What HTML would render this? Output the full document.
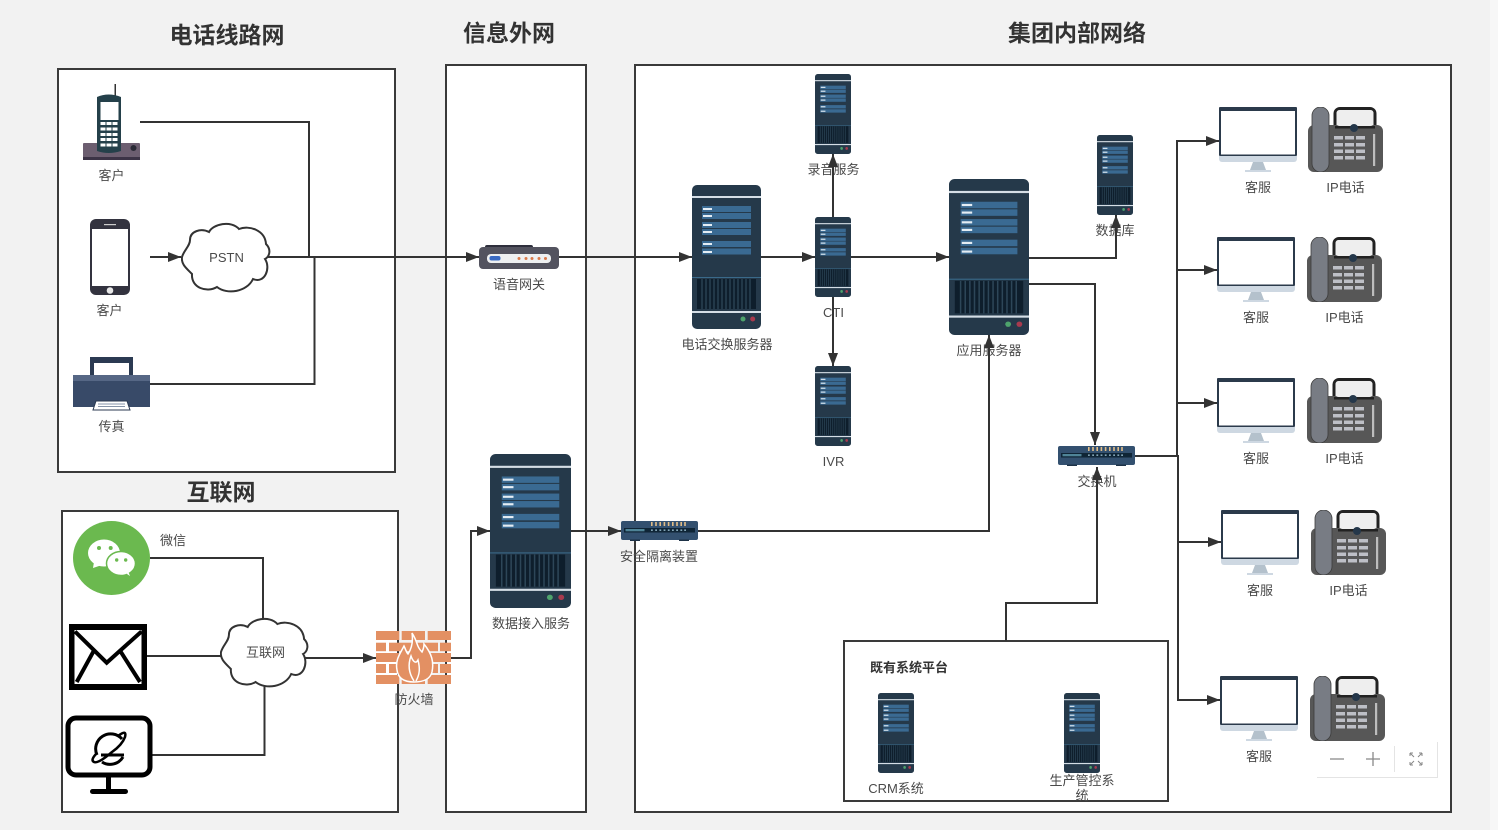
<!DOCTYPE html>
<html lang="zh"><head><meta charset="utf-8"><title>网络拓扑</title>
<style>
html,body{margin:0;padding:0;background:#f2f2f2;width:1498px;height:830px;overflow:hidden}
svg{display:block}
text{font-family:"Liberation Sans","Noto Sans CJK SC",sans-serif;fill:#4a4a4a;font-size:13px;text-anchor:middle}
.t{font-size:23px;font-weight:700;fill:#333}
.b{fill:#fff;stroke:#3a3a3a;stroke-width:2}
.c{fill:none;stroke:#333;stroke-width:2}
</style></head><body>
<svg width="1498" height="830" viewBox="0 0 1498 830" xmlns="http://www.w3.org/2000/svg">
<defs>
<marker id="a" markerUnits="userSpaceOnUse" markerWidth="14" markerHeight="10" refX="13" refY="5" orient="auto"><path d="M0 0L13 5L0 10L0 0Z" fill="#333"/></marker>
<symbol id="srv" viewBox="0 0 69 144" preserveAspectRatio="none">
<rect width="69" height="144" rx="5" fill="#25394a"/>
<rect y="11" width="69" height="2" fill="#d5dee6"/>
<g fill="#3a6a92"><rect x="10" y="21" width="49" height="6"/><rect x="10" y="28" width="49" height="6"/><rect x="10" y="37" width="49" height="6"/><rect x="10" y="44" width="49" height="6"/><rect x="10" y="56" width="49" height="6"/><rect x="10" y="63.500" width="49" height="6"/></g>
<g fill="#e4edf4"><rect x="11" y="23" width="9" height="2"/><rect x="11" y="30" width="9" height="2"/><rect x="11" y="39" width="9" height="2"/><rect x="11" y="46" width="9" height="2"/><rect x="11" y="58" width="9" height="2"/><rect x="11" y="66" width="9" height="2"/></g>
<rect y="92" width="69" height="1" fill="#3a6a8a"/>
<rect x="5" y="94" width="59" height="30" fill="#0e1e2c"/>
<path d="M10 94v30M14 94v30M18 94v30M22 94v30M26 94v30M30 94v30M34 94v30M38 94v30M42 94v30M46 94v30M50 94v30M54 94v30M58 94v30" stroke="#2d4658" stroke-width="1.300"/>
<rect y="126" width="69" height="2" fill="#d5dee6"/>
<circle cx="51" cy="134" r="2.500" fill="#4ea36c"/><circle cx="60.700" cy="134" r="2.500" fill="#a83a4e"/>
</symbol>
<symbol id="mon" viewBox="0 0 78 65">
<rect width="78" height="49" rx="1" fill="#2b3a4b"/>
<rect x="2" y="4" width="74" height="43.500" fill="#fff"/>
<path d="M0 49H78V52a3 3 0 0 1-3 3H3a3 3 0 0 1-3-3Z" fill="#ced8e2"/>
<path d="M34 55H44L47 63H31Z" fill="#b4c1cc"/><rect x="26" y="63" width="26" height="2" fill="#ced8e2"/>
</symbol>
<symbol id="fon" viewBox="0 0 75 65">
<rect x="27" y="1.500" width="40" height="24" rx="5" fill="#eee" stroke="#222" stroke-width="3"/>
<rect x="0" y="18" width="75" height="47" rx="6" fill="#575757"/>
<rect x="27" y="19" width="40" height="2.500" fill="#222"/>
<rect x="28.500" y="3" width="37" height="16" rx="3" fill="#eee"/>
<rect x="4" y="0" width="17" height="65" rx="8.500" fill="#787c84" stroke="#3c3c3c" stroke-width=".8"/>
<circle cx="46" cy="21" r="4" fill="#24374a"/>
<g fill="#bdbfc6"><rect x="26" y="29" width="9" height="3.500"/><rect x="37" y="29" width="9" height="3.500"/><rect x="48" y="29" width="9" height="3.500"/><rect x="26" y="36" width="9" height="3.500"/><rect x="37" y="36" width="9" height="3.500"/><rect x="48" y="36" width="9" height="3.500"/><rect x="26" y="42.500" width="9" height="3.500"/><rect x="37" y="42.500" width="9" height="3.500"/><rect x="48" y="42.500" width="9" height="3.500"/><rect x="26" y="49" width="9" height="3.500"/><rect x="37" y="49" width="9" height="3.500"/><rect x="48" y="49" width="9" height="3.500"/></g>
<rect x="65" y="27" width="2.200" height="32" fill="#bdbdbd"/>
</symbol>
<symbol id="sw" viewBox="0 0 77 20">
<rect y="0" width="77" height="19" rx="2" fill="#33506f"/>
<g fill="#e2bd87"><rect x="30" y="1" width="1.600" height="4"/><rect x="34.200" y="1" width="1.600" height="4"/><rect x="38.400" y="1" width="1.600" height="4"/><rect x="42.600" y="1" width="1.600" height="4"/><rect x="46.800" y="1" width="1.600" height="4"/><rect x="51" y="1" width="1.600" height="4"/><rect x="55.200" y="1" width="1.600" height="4"/><rect x="59.400" y="1" width="1.600" height="4"/><rect x="63.200" y="1" width="1.600" height="4"/></g>
<rect x="3" y="7" width="71" height="4.500" fill="#0f2536"/><rect x="4.500" y="8" width="19" height="2.300" fill="#4f8497"/>
<g fill="#9fc4d6"><rect x="30" y="8.500" width="1.800" height="1.300"/><rect x="34.200" y="8.500" width="1.800" height="1.300"/><rect x="38.400" y="8.500" width="1.800" height="1.300"/><rect x="42.600" y="8.500" width="1.800" height="1.300"/><rect x="46.800" y="8.500" width="1.800" height="1.300"/><rect x="51" y="8.500" width="1.800" height="1.300"/><rect x="55.200" y="8.500" width="1.800" height="1.300"/><rect x="59.400" y="8.500" width="1.800" height="1.300"/><rect x="63.200" y="8.500" width="1.800" height="1.300"/></g>
<rect x="9" y="18.500" width="10" height="1.500" fill="#1d3247"/><rect x="58" y="18.500" width="10" height="1.500" fill="#1d3247"/>
</symbol>
<symbol id="cloud" viewBox="0 0 90 71" preserveAspectRatio="none">
<path d="M1 35C3 28 9 24 9 18C9 9 20 6 28 10C32 2 50-2 58 7C68 3 84 8 85 22C91 28 88 35 84 37C90 46 84 62 72 57C66 70 46 73 36 65C26 71 10 66 11 52C5 46 0 42 1 35Z" fill="#fff" stroke="#333" stroke-width="2"/>
</symbol>
</defs>

<rect x="1490" width="8" height="830" fill="#f7f7f7"/>
<rect class="b" x="58" y="69" width="337" height="403"/>
<rect class="b" x="62" y="511" width="336" height="301"/>
<rect class="b" x="446" y="65" width="140" height="747"/>
<rect class="b" x="635" y="65" width="816" height="747"/>
<rect class="b" x="844" y="641" width="324" height="160"/>

<text class="t" x="227" y="43">电话线路网</text>
<text class="t" x="509" y="41">信息外网</text>
<text class="t" x="1077" y="41">集团内部网络</text>
<text class="t" x="221" y="500">互联网</text>

<text x="111.500" y="180">客户</text><text x="109.500" y="315">客户</text><text x="111.500" y="431">传真</text>
<text x="519" y="289">语音网关</text><text x="727" y="349">电话交换服务器</text>
<text x="833.500" y="174">录音服务</text><text x="833.500" y="317">CTI</text><text x="833.500" y="466">IVR</text>
<text x="989" y="355">应用服务器</text><text x="1115" y="235">数据库</text><text x="1097" y="486">交换机</text>
<text x="173" y="545">微信</text><text x="414" y="704">防火墙</text>
<text x="531" y="628">数据接入服务</text><text x="659" y="561">安全隔离装置</text>
<text x="909" y="672" style="font-weight:700;fill:#333">既有系统平台</text>
<text x="896" y="793">CRM系统</text><text x="1082" y="785">生产管控系</text><text x="1082" y="800">统</text>
<text x="1258" y="192">客服</text><text x="1345.500" y="192">IP电话</text>
<text x="1256" y="322">客服</text><text x="1344.500" y="322">IP电话</text>
<text x="1256" y="463">客服</text><text x="1344.500" y="463">IP电话</text>
<text x="1260" y="595">客服</text><text x="1348.500" y="595">IP电话</text>
<text x="1259" y="761">客服</text>

<g class="c">
<path d="M140 122H309V257"/>
<path d="M150 257H181" marker-end="url(#a)"/>
<path d="M150 384H314.500V257"/>
<path d="M268 257H479" marker-end="url(#a)"/>
<path d="M559 257H692" marker-end="url(#a)"/>
<path d="M761 257H815" marker-end="url(#a)"/>
<path d="M851 257H949" marker-end="url(#a)"/>
<path d="M833 217V154" marker-end="url(#a)"/>
<path d="M833 297V366" marker-end="url(#a)"/>
<path d="M1029 258H1116V215" marker-end="url(#a)"/>
<path d="M1029 284H1095V445" marker-end="url(#a)"/>
<path d="M1135 456H1177V141H1219" marker-end="url(#a)"/>
<path d="M1177 270H1217" marker-end="url(#a)"/>
<path d="M1177 403H1217" marker-end="url(#a)"/>
<path d="M1135 456H1178V700H1220" marker-end="url(#a)"/>
<path d="M1178 542H1221" marker-end="url(#a)"/>
<path d="M1006 641V603H1097V467" marker-end="url(#a)"/>
<path d="M571 531H621" marker-end="url(#a)"/>
<path d="M698 531H989V335" marker-end="url(#a)"/>
<path d="M451 658H471V531H490" marker-end="url(#a)"/>
<path d="M150 558H263V622"/>
<path d="M147 656H222"/>
<path d="M152 755H264.500V684"/>
<path d="M305 658H376" marker-end="url(#a)"/>
</g>

<use href="#cloud" x="181" y="222" width="90" height="71"/>
<use href="#cloud" x="220" y="617" width="89" height="71"/>
<text x="226.500" y="262">PSTN</text><text x="265.500" y="657">互联网</text>

<use href="#srv" x="692" y="185" width="69" height="144"/>
<use href="#srv" x="949" y="179" width="80" height="156"/>
<use href="#srv" x="490" y="454" width="81" height="154"/>
<use href="#srv" x="815" y="74" width="36" height="80"/>
<use href="#srv" x="815" y="217" width="36" height="80"/>
<use href="#srv" x="815" y="366" width="36" height="80"/>
<use href="#srv" x="1097" y="135" width="36" height="80"/>
<use href="#srv" x="878" y="693" width="36" height="80"/>
<use href="#srv" x="1064" y="693" width="36" height="80"/>

<use href="#sw" x="1058" y="446" width="77" height="20"/>
<use href="#sw" x="621" y="521" width="77" height="20"/>

<rect x="485" y="245" width="48" height="5" rx="2" fill="#2e2f3c"/>
<rect x="479" y="247" width="80" height="22" rx="4" fill="#53535f"/>
<rect x="487" y="254" width="64" height="9" rx="4" fill="#eef0f1"/>
<rect x="489.500" y="256" width="11" height="4.500" rx="2" fill="#3a6bc4"/>
<g fill="#d9794a"><circle cx="519" cy="258.500" r="1.500"/><circle cx="526" cy="258.500" r="1.500"/><circle cx="532" cy="258.500" r="1.500"/><circle cx="539" cy="258.500" r="1.500"/><circle cx="545.500" cy="258.500" r="1.500"/></g>

<rect x="114.500" y="84" width="1.500" height="12" fill="#333"/>
<rect x="83" y="143" width="57" height="17" rx="1" fill="#6c5e70"/><rect x="83" y="157" width="57" height="3" fill="#3c3346"/>
<circle cx="133.500" cy="148" r="3" fill="#2a2a36"/>
<path d="M97 97Q108.500 92 121 97V151Q108.500 155 97 151Z" fill="#24404a"/>
<rect x="100.500" y="102" width="18" height="18" fill="#fff"/>
<g fill="#fff"><rect x="100.500" y="122" width="5" height="3"/><rect x="106.500" y="122" width="5" height="3"/><rect x="112.500" y="122" width="5" height="3"/><rect x="100.500" y="127.500" width="5" height="3"/><rect x="106.500" y="127.500" width="5" height="3"/><rect x="112.500" y="127.500" width="5" height="3"/><rect x="100.500" y="133" width="5" height="3"/><rect x="106.500" y="133" width="5" height="3"/><rect x="112.500" y="133" width="5" height="3"/><rect x="100.500" y="138" width="5" height="3"/><rect x="106.500" y="138" width="5" height="3"/><rect x="112.500" y="138" width="5" height="3"/><rect x="100.500" y="143.500" width="5" height="3"/><rect x="106.500" y="143.500" width="5" height="3"/><rect x="112.500" y="143.500" width="5" height="3"/></g>

<rect x="90" y="219" width="40" height="76" rx="6" fill="#33333f"/>
<rect x="92" y="229" width="36" height="57" fill="#fff"/>
<circle cx="110" cy="290.500" r="3.300" fill="#e8e8e8"/><rect x="104" y="224" width="12" height="1.200" fill="#ccc"/>

<rect x="90" y="357" width="43" height="20" fill="#2b3a52"/>
<rect x="94" y="363" width="35" height="13" fill="#fff"/>
<rect x="73" y="375" width="77" height="32" fill="#384a68"/>
<rect x="73" y="375" width="77" height="6" fill="#566785"/>
<path d="M96 401H127L130 410H93Z" fill="#fff" stroke="#2b3a52"/>
<path d="M98 404H125M98 406.500H125" stroke="#8593a8" stroke-width="1"/>

<ellipse cx="111.500" cy="558" rx="38.500" ry="37" fill="#6bb94f"/>
<ellipse cx="104" cy="553" rx="16" ry="13.500" fill="#fff"/><path d="M94 562L93 568L102 565Z" fill="#fff"/>
<ellipse cx="121" cy="563.500" rx="14.500" ry="12" fill="#fff" stroke="#6bb94f" stroke-width="1.500"/><path d="M127 574L130 576L128 571Z" fill="#fff"/>
<g fill="#6bb94f"><circle cx="99" cy="548" r="2"/><circle cx="110.700" cy="548" r="2"/><circle cx="116.700" cy="560" r="1.700"/><circle cx="125.700" cy="560" r="1.700"/></g>

<rect x="69" y="624" width="78" height="66" fill="#000"/>
<rect x="74.500" y="630" width="67" height="54" fill="#fff"/>
<path d="M75 631.500L106.700 662.700L141.500 631.500M93.300 651.700L76.700 682M120.700 651.700L140 682" fill="none" stroke="#000" stroke-width="4"/>

<rect x="68" y="718" width="82" height="57" rx="8" fill="#fff" stroke="#000" stroke-width="5"/>
<rect x="106" y="775" width="5" height="15" fill="#000"/><rect x="90" y="789" width="38" height="5" rx="2.500" fill="#000"/>
<path d="M122 739A15 15 0 0 0 97 755M124 755H101M123 757A15 15 0 0 1 102 762" fill="none" stroke="#000" stroke-width="3"/>
<path d="M118 736Q127 729 125 737Q122 745 112 752Q98 764 94 762Q90 760 97 753" fill="none" stroke="#000" stroke-width="2.500"/>

<g fill="#e39063">
<rect x="376" y="631" width="23.300" height="9"/><rect x="401.700" y="631" width="23.300" height="9"/><rect x="427.700" y="631" width="23.300" height="9"/>
<rect x="376" y="642.700" width="10" height="8.500"/><rect x="389" y="642.700" width="23" height="8.500"/><rect x="415" y="642.700" width="23" height="8.500"/><rect x="440" y="642.700" width="11" height="8.500"/>
<rect x="376" y="653" width="23.300" height="9"/><rect x="401.700" y="653" width="23.300" height="9"/><rect x="427.700" y="653" width="23.300" height="9"/>
<rect x="376" y="664" width="10" height="9"/><rect x="389" y="664" width="23" height="9"/><rect x="415" y="664" width="23" height="9"/><rect x="440" y="664" width="11" height="9"/>
<rect x="376" y="675" width="23.300" height="9"/><rect x="401.700" y="675" width="23.300" height="9"/><rect x="427.700" y="675" width="23.300" height="9"/>
</g>
<path d="M412 633C418 642 416 646 422 652C424 648 424 646 424 644C432 654 434 662 432 672C430 680 422 682 414 682C404 682 398 678 397 670C395 660 400 654 404 646C406 650 406 652 408 654C412 648 413 640 412 633Z" fill="#e39063" stroke="#fff" stroke-width="1.500"/>
<path d="M414 681C408 672 408 664 411 656C413 662 416 664 418 660C420 668 420 674 416 681" fill="none" stroke="#fff" stroke-width="1.500"/>

<use href="#mon" x="1219" y="107" width="78" height="65"/><use href="#fon" x="1308" y="107" width="75" height="65"/>
<use href="#mon" x="1217" y="237" width="78" height="65"/><use href="#fon" x="1307" y="237" width="75" height="65"/>
<use href="#mon" x="1217" y="378" width="78" height="65"/><use href="#fon" x="1307" y="378" width="75" height="65"/>
<use href="#mon" x="1221" y="510" width="78" height="65"/><use href="#fon" x="1311" y="510" width="75" height="65"/>
<use href="#mon" x="1220" y="676" width="78" height="65"/><use href="#fon" x="1310" y="676" width="75" height="65"/>

<rect x="1317" y="742" width="120" height="35" fill="#fff"/>
<path d="M1317 777.500H1437.500V742" fill="none" stroke="#e4e4e4"/>
<path d="M1394.500 746V772" stroke="#e4e4e4"/>
<path d="M1330 759H1344M1366 759H1380M1373 752V766" stroke="#888" stroke-width="1.300"/>
<path d="M1410 753H1413M1410 753V756M1422 753H1419M1422 753V756M1410 765H1413M1410 765V762M1422 765H1419M1422 765V762M1410 753L1414 757M1422 753L1418 757M1410 765L1414 761M1422 765L1418 761" stroke="#888" fill="none"/>
</svg>
</body></html>
